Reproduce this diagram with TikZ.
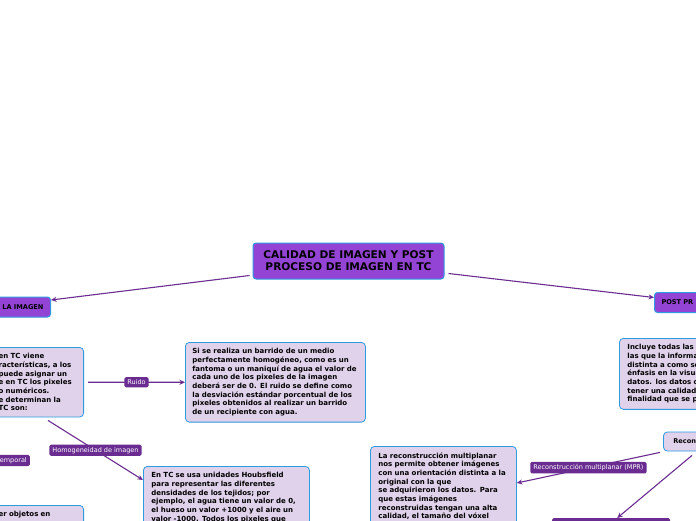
\documentclass[tikz,border=0pt]{standalone}
\usepackage{fontspec}
\setmainfont{DejaVu Sans}
\usetikzlibrary{calc,arrows.meta}
\definecolor{mainfill}{HTML}{9444D4}
\definecolor{lblfill}{HTML}{6A2C91}
\definecolor{boxfill}{HTML}{E1D2EB}
\definecolor{edgeblue}{HTML}{2E9BE0}
\definecolor{conncol}{HTML}{6B2D91}
\tikzset{
  topic/.style={draw=edgeblue, line width=1pt, fill=mainfill, rounded corners=3pt,
    font=\bfseries\fontsize{10.6}{12}\selectfont, align=center, inner sep=2pt},
  subtopic/.style={draw=edgeblue, line width=1pt, fill=mainfill, rounded corners=3pt,
    font=\bfseries\fontsize{6.6}{8}\selectfont, minimum height=20},
  txtbox/.style={draw=edgeblue, line width=0.8pt, fill=boxfill, rounded corners=4pt,
    font=\bfseries\fontsize{7}{8.7}\selectfont, align=left, inner xsep=8, inner ysep=6},
  lbl/.style={fill=lblfill, text=white, rounded corners=1.5pt,
    font=\fontsize{6.5}{7}\selectfont, inner xsep=3, inner ysep=2.5},
  conn/.style={draw=conncol, line width=1.1pt, -{Stealth[length=5.5pt,width=5pt]}},
  plainconn/.style={draw=conncol, line width=1.1pt}
}
\begin{document}
\begin{tikzpicture}[x=1pt,y=-1pt]
\useasboundingbox (0,0) rectangle (696,520);
\fill[white] (0,0) rectangle (696,520);
\clip (0,0) rectangle (696,520);

% central topic
\node[topic, minimum width=191, minimum height=36] (center) at (348.5,261)
  {CALIDAD DE IMAGEN Y POST\\ PROCESO DE IMAGEN EN TC};

% main subtopics
\node[subtopic, anchor=east, text width=50, align=right, inner xsep=7] (laimg) at (51,307) {LA IMAGEN};
\node[subtopic, anchor=west, text width=50, align=left, inner xsep=7] (post) at (654,302.5) {POST PR};

% left branch
\node[txtbox, anchor=north east, text width=77, minimum height=69] (lbox) at (84,347)
  {en TC viene\\racterísticas, a los\\puede asignar un\\e en TC los pixeles\\o numéricos.\\e determinan la\\TC son:};

\node[txtbox, anchor=north west, text width=166, inner xsep=7, minimum height=78] (ruidobox) at (185,342)
  {Si se realiza un barrido de un medio\\perfectamente homogéneo, como es un\\fantoma o un maniquí de agua el valor de\\cada uno de los pixeles de la imagen\\deberá ser de 0. El ruido se define como\\la desviación estándar porcentual de los\\pixeles obtenidos al realizar un barrido\\de un recipiente con agua.};

\node[txtbox, anchor=north west, text width=150] (hounsbox) at (143,466)
  {En TC se usa unidades Houbsfield\\para representar las diferentes\\densidades de los tejidos; por\\ejemplo, el agua tiene un valor de 0,\\el hueso un valor +1000 y el aire un\\valor -1000. Todos los pixeles que};

\node[lbl, anchor=east, text width=40, align=right] (temporal) at (30,460.5) {emporal};

\node[txtbox, anchor=north east, text width=77] (objbox) at (84,505) {er objetos en\\ \strut};

% right branch
\node[txtbox, anchor=north west, text width=100, minimum height=69] (inclbox) at (619,338)
  {Incluye todas las\\las que la informa\\distinta a como se\\énfasis en la visua\\datos. los datos o\\tener una calidad\\finalidad que se p};

\node[txtbox, anchor=west, minimum height=19, minimum width=60, text width=40, inner xsep=9, inner ysep=3,
  font=\bfseries\fontsize{6.6}{8}\selectfont] (recon) at (663,441.5) {Recon};

\node[txtbox, anchor=north west, text width=130] (mprbox) at (370,446)
  {La reconstrucción multiplanar\\nos permite obtener imágenes\\con una orientación distinta a la\\original con la que\\se adquirieron los datos. Para\\que estas imágenes\\reconstruidas tengan una alta\\calidad, el tamaño del vóxel};

\node[fill=lblfill, rounded corners=1.5pt, anchor=north west, minimum width=118, minimum height=16] (bottomsub) at (552,518) {};

% connectors
\draw[conn] ([shift={(-3,-4)}]center.south west) -- ([shift={(0,-7)}]laimg.east);
\draw[conn] ([shift={(4,-6)}]center.south east) -- ([shift={(0,-5)}]post.west);
\draw[conn] ([xshift=4pt]lbox.east) -- node[lbl] {Ruido} (ruidobox.west);
\draw[conn] ([shift={(-36,3)}]lbox.south east) -- node[lbl] {Homogeneidad de imagen} ([shift={(0,14)}]hounsbox.north west);
\draw[conn] ([shift={(-3,1)}]recon.south west) -- node[lbl] {Reconstrucción multiplanar (MPR)} ([shift={(0,37)}]mprbox.north east);
\draw[conn] ([shift={(29,4)}]recon.south west) -- ([xshift=6pt]bottomsub.north);
\end{tikzpicture}
\end{document}
